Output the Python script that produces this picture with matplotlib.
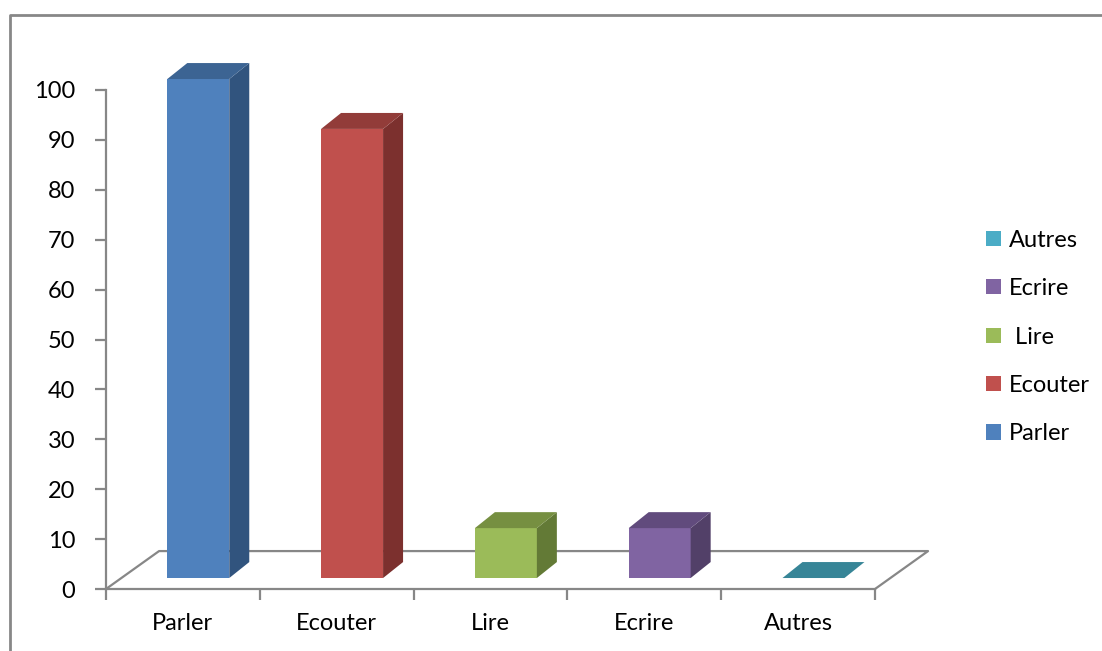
import matplotlib.pyplot as plt
from matplotlib.patches import Polygon, Patch
from matplotlib.lines import Line2D

categories = ['Parler', 'Ecouter', 'Lire', 'Ecrire', 'Autres']
values = [100, 90, 10, 10, 0]
legend_labels = ['Parler', 'Ecouter', ' Lire', 'Ecrire', 'Autres']
yticks = [0, 10, 20, 30, 40, 50, 60, 70, 80, 90, 100]

# front, top, side colours per bar
front = ['#4F81BD', '#C0504D', '#9BBB59', '#8064A2', '#4BACC6']
top = ['#3C6493', '#923C39', '#768F41', '#614B7D', '#378597']
side = ['#31547E', '#7C302E', '#637A36', '#524068', '#2F7282']

plt.rcParams['font.family'] = ['Lato', 'DejaVu Sans']
GRID = '#878787'
FS = 17

fig = plt.figure(figsize=(11.02, 6.51), dpi=100)
ax = fig.add_axes([106 / 1102, 62 / 651, 769 / 1102, 499 / 651])
ax.set_xlim(-0.5, 4.5)
ax.set_ylim(0, 100)

# pseudo 3d geometry (data units)
floor_dx, floor_dy = 0.345, 7.6
base_dx, base_dy = 0.1, 2.2
bar_w = 0.403
depth_dx, depth_dy = 0.13, 3.2

# floor
fx = [-0.5, -0.5 + floor_dx, 4.5 + floor_dx, 4.5]
fy = [0, floor_dy, floor_dy, 0]
ax.add_line(Line2D(fx, fy, color=GRID, lw=1.6, clip_on=False, zorder=1))

for i, v in enumerate(values):
    x0 = i + base_dx - bar_w / 2
    x1 = x0 + bar_w
    y0 = base_dy
    y1 = base_dy + v
    if v > 0:
        ax.add_patch(Polygon([(x0, y0), (x1, y0), (x1, y1), (x0, y1)],
                             closed=True, fc=front[i], ec='none', clip_on=False, zorder=3))
        ax.add_patch(Polygon([(x1, y0), (x1 + depth_dx, y0 + depth_dy),
                              (x1 + depth_dx, y1 + depth_dy), (x1, y1)],
                             closed=True, fc=side[i], ec='none', clip_on=False, zorder=3))
    ax.add_patch(Polygon([(x0, y1), (x1, y1), (x1 + depth_dx, y1 + depth_dy),
                          (x0 + depth_dx, y1 + depth_dy)],
                         closed=True, fc=top[i], ec='none', clip_on=False, zorder=3))

# axes
for s in ['top', 'right']:
    ax.spines[s].set_visible(False)
for s in ['left', 'bottom']:
    ax.spines[s].set_color(GRID)
    ax.spines[s].set_linewidth(1.6)
ax.spines['left'].set_zorder(2)
ax.set_yticks(yticks)
ax.tick_params(axis='y', direction='out', length=8, width=1.6, color=GRID,
               labelsize=FS, pad=14)
ax.set_xticks(range(len(categories)))
ax.set_xticklabels(categories)
ax.set_xticks([k - 0.5 for k in range(len(categories) + 1)], minor=True)
ax.tick_params(axis='x', which='major', length=0, labelsize=FS, pad=17)
ax.tick_params(axis='x', which='minor', direction='out', length=8, width=1.6, color=GRID)
ax.patch.set_visible(False)

handles = [Patch(facecolor=front[i], edgecolor='none') for i in range(len(categories))]
fig.legend(handles[::-1], legend_labels[::-1], loc='center left',
           bbox_to_anchor=(986 / 1102, 1 - 337 / 651), frameon=False, fontsize=FS,
           borderpad=0, borderaxespad=0,
           handlelength=0.62, handleheight=0.62, handletextpad=0.34,
           labelspacing=1.16)

# outer chart frame (cut off at right and bottom)
fig.add_artist(Line2D([10 / 1102, 10 / 1102, 1.0], [0.0, 1 - 15 / 651, 1 - 15 / 651],
                      transform=fig.transFigure, color=GRID, lw=2))

fig.savefig('out.png', dpi=100)
